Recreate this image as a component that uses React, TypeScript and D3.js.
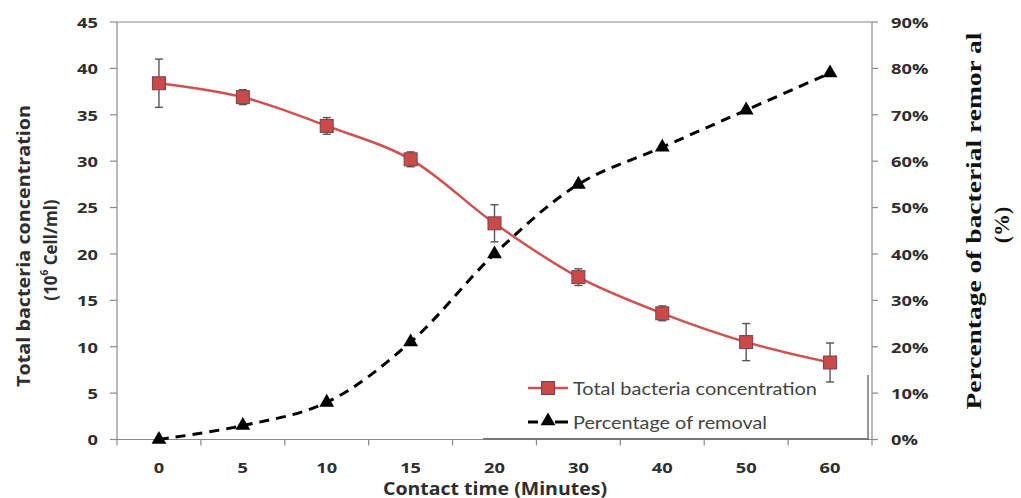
import React from "react";
import * as d3 from "d3";

const categories = ["0", "5", "10", "15", "20", "30", "40", "50", "60"];
const concentration = [38.4, 36.9, 33.8, 30.2, 23.3, 17.5, 13.6, 10.5, 8.3];
const concentrationErr = [2.6, 0.8, 0.9, 0.8, 2.0, 0.9, 0.8, 2.0, 2.1];
const removal = [0, 0.03, 0.08, 0.21, 0.4, 0.55, 0.63, 0.71, 0.79];
const leftTicks = [0, 5, 10, 15, 20, 25, 30, 35, 40, 45];
const rightTicks = [0, 0.1, 0.2, 0.3, 0.4, 0.5, 0.6, 0.7, 0.8, 0.9];

const W = 1021;
const H = 498;
const left = 117;
const right = 872;
const top = 22;
const bottom = 439.5;

export default function App() {
  const x = d3.scaleBand<string>().domain(categories).range([left, right]).padding(0);
  const yL = d3.scaleLinear().domain([0, 45]).range([bottom, top]);
  const yR = d3.scaleLinear().domain([0, 0.9]).range([bottom, top]);
  const cx = (c: string) => (x(c) as number) + x.bandwidth() / 2;

  const lineL = d3
    .line<number>()
    .x((_, i) => cx(categories[i]))
    .y((d) => yL(d))
    .curve(d3.curveCatmullRom.alpha(0.5));
  const lineR = d3
    .line<number>()
    .x((_, i) => cx(categories[i]))
    .y((d) => yR(d))
    .curve(d3.curveCatmullRom.alpha(0.5));

  const tri = d3.symbol().type(d3.symbolTriangle).size(95)();
  const font = "'Open Sans', Lato, sans-serif";
  const legFont = "Lato, 'Open Sans', sans-serif";
  const axisColor = "#8a8a8a";
  const labelColor = "#2e2e2e";
  const boundaries = categories.map((c) => x(c) as number).concat([right]);
  const sx = 1.22;

  return (
    <svg
      width={W}
      height={H}
      style={{ position: "absolute", left: 0, top: 0, background: "#fff" }}
    >
      {/* plot frame */}
      <line x1={left} x2={right} y1={top} y2={top} stroke={axisColor} strokeWidth={1.2} />
      <line x1={left} x2={left} y1={top} y2={bottom} stroke={axisColor} strokeWidth={1.2} />
      <line x1={right} x2={right} y1={top} y2={bottom} stroke={axisColor} strokeWidth={1.2} />
      <line x1={left - 7} x2={right} y1={bottom} y2={bottom} stroke={axisColor} strokeWidth={1.2} />

      {/* left ticks */}
      {leftTicks.map((t) => (
        <g key={"l" + t}>
          <line x1={left - 7} x2={left} y1={yL(t)} y2={yL(t)} stroke={axisColor} strokeWidth={1.2} />
          <text
            transform={`translate(98,${yL(t)}) scale(${sx},1)`}
            textAnchor="end"
            dominantBaseline="central"
            fontFamily={font}
            fontWeight="bold"
            fontSize={15}
            fill={labelColor}
          >
            {t}
          </text>
        </g>
      ))}

      {/* right ticks */}
      {rightTicks.map((t) => (
        <g key={"r" + t}>
          <line x1={right} x2={right + 6} y1={yR(t)} y2={yR(t)} stroke={axisColor} strokeWidth={1.2} />
          <text
            transform={`translate(891,${yR(t)}) scale(${sx},1)`}
            textAnchor="start"
            dominantBaseline="central"
            fontFamily={font}
            fontWeight="bold"
            fontSize={15}
            fill={labelColor}
          >
            {Math.round(t * 100) + "%"}
          </text>
        </g>
      ))}

      {/* x ticks */}
      {boundaries.map((b, i) => (
        <line key={"xt" + i} x1={b} x2={b} y1={bottom} y2={bottom + 6} stroke={axisColor} strokeWidth={1.2} />
      ))}
      {categories.map((c) => (
        <text
          key={"xl" + c}
          transform={`translate(${cx(c)},467) scale(${sx},1)`}
          textAnchor="middle"
          dominantBaseline="central"
          fontFamily={font}
          fontWeight="bold"
          fontSize={15}
          fill={labelColor}
        >
          {c}
        </text>
      ))}

      {/* axis titles */}
      <text
        x={495}
        y={488}
        textAnchor="middle"
        dominantBaseline="central"
        fontFamily={font}
        fontWeight="bold"
        fontSize={17}
        fill={labelColor}
        textLength={224}
        lengthAdjust="spacingAndGlyphs"
      >
        Contact time (Minutes)
      </text>
      <text
        transform="translate(23,246) rotate(-90)"
        textAnchor="middle"
        dominantBaseline="central"
        fontFamily={font}
        fontWeight="bold"
        fontSize={17}
        fill={labelColor}
        textLength={282}
        lengthAdjust="spacingAndGlyphs"
      >
        Total bacteria concentration
      </text>
      <text
        transform="translate(50,250) rotate(-90)"
        textAnchor="middle"
        dominantBaseline="central"
        fontFamily={font}
        fontWeight="bold"
        fontSize={17}
        fill={labelColor}
      >
        (10<tspan dy={-6} fontSize={10}>6</tspan>
        <tspan dy={6}> Cell/ml)</tspan>
      </text>
      <text
        transform="translate(973,221) rotate(-90)"
        textAnchor="middle"
        dominantBaseline="central"
        fontFamily="'Liberation Serif', 'DejaVu Serif', serif"
        fontWeight="bold"
        fontSize={22}
        fill="#111"
        textLength={377}
        lengthAdjust="spacingAndGlyphs"
      >
        Percentage of  bacterial remor al
      </text>
      <text
        transform="translate(1001,225) rotate(-90)"
        textAnchor="middle"
        dominantBaseline="central"
        fontFamily="'Liberation Serif', 'DejaVu Serif', serif"
        fontWeight="bold"
        fontSize={22}
        fill="#111"
      >
        (%)
      </text>

      {/* legend box */}
      <rect x={483} y={375} width={385} height={64} fill="#fff" />
      <line x1={868} x2={868} y1={375} y2={440} stroke="#999" strokeWidth={2} />
      <line x1={483} x2={869} y1={439} y2={439} stroke="#777" strokeWidth={2} />

      {/* removal series */}
      <path
        d={lineR(removal) as string}
        fill="none"
        stroke="#000"
        strokeWidth={3}
        strokeDasharray="10,7"
      />
      {removal.map((v, i) => (
        <path key={"tri" + i} d={tri as string} transform={`translate(${cx(categories[i])},${yR(v)})`} fill="#000" />
      ))}

      {/* concentration series */}
      <path d={lineL(concentration) as string} fill="none" stroke="#d2504e" strokeWidth={2.5} />
      {concentration.map((v, i) => {
        const px = cx(categories[i]);
        const e = concentrationErr[i];
        return (
          <g key={"eb" + i} stroke="#555" strokeWidth={1.4}>
            <line x1={px} x2={px} y1={yL(v + e)} y2={yL(v - e)} />
            <line x1={px - 4} x2={px + 4} y1={yL(v + e)} y2={yL(v + e)} />
            <line x1={px - 4} x2={px + 4} y1={yL(v - e)} y2={yL(v - e)} />
          </g>
        );
      })}
      {concentration.map((v, i) => (
        <rect
          key={"sq" + i}
          x={cx(categories[i]) - 6.5}
          y={yL(v) - 6.5}
          width={13}
          height={13}
          fill="#c94a48"
          stroke="#7b4050"
          strokeWidth={1}
        />
      ))}

      {/* legend entries */}
      <line x1={528} x2={568} y1={388} y2={388} stroke="#d2504e" strokeWidth={2.5} />
      <rect x={541.5} y={381.5} width={13} height={13} fill="#c94a48" stroke="#7b4050" strokeWidth={1} />
      <text
        x={573}
        y={388}
        dominantBaseline="central"
        fontFamily={legFont}
        fontSize={18}
        fill="#444"
        textLength={244}
        lengthAdjust="spacingAndGlyphs"
      >
        Total bacteria concentration
      </text>
      <line x1={528} x2={538} y1={422} y2={422} stroke="#000" strokeWidth={3} />
      <line x1={555} x2={568} y1={422} y2={422} stroke="#000" strokeWidth={3} />
      <path d={tri as string} transform="translate(548,421)" fill="#000" />
      <text
        x={573}
        y={422}
        dominantBaseline="central"
        fontFamily={legFont}
        fontSize={18}
        fill="#444"
        textLength={194}
        lengthAdjust="spacingAndGlyphs"
      >
        Percentage of removal
      </text>
    </svg>
  );
}
